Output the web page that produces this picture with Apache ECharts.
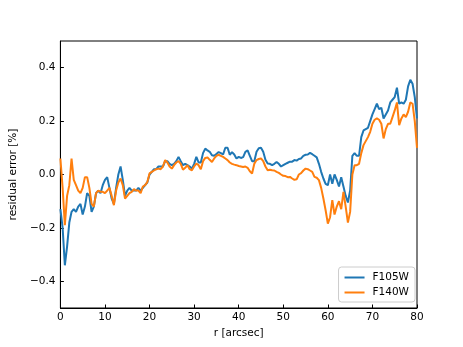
<!DOCTYPE html>
<html>
<head>
<meta charset="utf-8">
<script src="https://cdn.jsdelivr.net/npm/echarts@6/dist/echarts.min.js"></script>
<style>
  html, body { margin: 0; padding: 0; background: #fff; }
  #chart { width: 463px; height: 347px; }
</style>
</head>
<body>
<div id="chart"></div>
<script>
// radius samples [arcsec], every 0.5 arcsec from 0 to 80
const radius = [];
for (let i = 0; i <= 160; i++) radius.push(i * 0.5);

const f105w = [
  -0.13, -0.2, -0.34, -0.27, -0.18, -0.14, -0.13, -0.14, -0.12, -0.11,
  -0.15, -0.12, -0.07, -0.08, -0.14, -0.12, -0.07, -0.06, -0.07, -0.04,
  -0.02, -0.01, -0.05, -0.09, -0.11, -0.05, 0.0, 0.03, -0.02, -0.08,
  -0.06, -0.05, -0.06, -0.06, -0.06, -0.05, -0.06, -0.05, -0.04, -0.03,
  0.0, 0.01, 0.02, 0.02, 0.03, 0.03, 0.03, 0.05, 0.05, 0.04,
  0.035, 0.04, 0.05, 0.066, 0.05, 0.035, 0.04, 0.035, 0.03, 0.022,
  0.04, 0.066, 0.045, 0.045, 0.08, 0.097, 0.09, 0.085, 0.072, 0.07,
  0.077, 0.084, 0.08, 0.075, 0.1, 0.1, 0.074, 0.084, 0.075, 0.06,
  0.066, 0.062, 0.065, 0.085, 0.09, 0.07, 0.05, 0.05, 0.085, 0.098,
  0.1, 0.085, 0.055, 0.041, 0.04, 0.035, 0.04, 0.047, 0.04, 0.03,
  0.035, 0.04, 0.044, 0.048, 0.048, 0.054, 0.052, 0.058, 0.06, 0.07,
  0.074, 0.075, 0.081, 0.076, 0.07, 0.064, 0.04, 0.01, -0.015, -0.035,
  -0.04, 0.0, -0.035, 0.0, -0.02, -0.045, -0.01, -0.045, -0.08, -0.105,
  -0.06, 0.07, 0.08, 0.07, 0.07, 0.14, 0.165, 0.17, 0.175, 0.2,
  0.225, 0.245, 0.265, 0.245, 0.25, 0.21, 0.225, 0.24, 0.27, 0.28,
  0.29, 0.325, 0.265, 0.27, 0.265, 0.28, 0.33, 0.355, 0.34, 0.29,
  0.21
];

const f140w = [
  0.06, -0.05, -0.19, -0.08, -0.04, 0.06, -0.02, -0.04, -0.06, -0.07,
  -0.05, -0.01, -0.01, -0.05, -0.11, -0.12, -0.07, -0.06, -0.065, -0.065,
  -0.07, -0.06, -0.05, -0.08, -0.115, -0.06, -0.03, -0.015, -0.04, -0.09,
  -0.08, -0.07, -0.065, -0.055, -0.06, -0.06, -0.07, -0.045, -0.04, -0.028,
  0.004, 0.01, 0.015, 0.02, 0.022, 0.02, 0.03, 0.054, 0.045, 0.03,
  0.022, 0.035, 0.045, 0.05, 0.04, 0.018, 0.025, 0.035, 0.02, 0.016,
  0.03, 0.041, 0.035, 0.02, 0.05, 0.062, 0.064, 0.055, 0.047, 0.06,
  0.07, 0.074, 0.07, 0.066, 0.06, 0.054, 0.045, 0.04, 0.037, 0.035,
  0.032, 0.03, 0.028, 0.03, 0.025, 0.012, 0.004, 0.04, 0.054, 0.058,
  0.06, 0.05, 0.03, 0.016, 0.018, 0.016, 0.015, 0.01, 0.006, 0.0,
  -0.005, -0.006, -0.01, -0.009, -0.015, -0.02, -0.018, 0.0, 0.005, 0.015,
  0.022, 0.02, 0.015, 0.01, -0.009, -0.012, -0.021, -0.05, -0.09, -0.134,
  -0.184, -0.16, -0.096, -0.15, -0.12, -0.1, -0.13, -0.065, -0.12, -0.18,
  -0.14, 0.0, 0.035, 0.035, 0.04, 0.08, 0.11, 0.125, 0.14, 0.16,
  0.19, 0.205, 0.21, 0.205, 0.19, 0.135, 0.17, 0.19, 0.19, 0.215,
  0.24, 0.27, 0.185, 0.21, 0.225, 0.215, 0.235, 0.27, 0.265, 0.2,
  0.1
];

const yTicks = [-0.4, -0.2, 0.0, 0.2, 0.4];
const xTicks = [0, 10, 20, 30, 40, 50, 60, 70, 80];

const font = 'DejaVu Sans';
const fmt = v => (v < 0 ? '\u2212' : '') + Math.abs(v).toFixed(1);
const legendIcon = 'path://M0,4 L20,4 L20,6 L0,6 Z';

const chart = echarts.init(document.getElementById('chart'), null, {renderer: 'canvas'});

const option = {
  animation: false,
  backgroundColor: '#fff',
  grid: {
    left: 58, right: 46, top: 41, bottom: 39,
    show: true, borderColor: '#000', borderWidth: 1, backgroundColor: 'transparent'
  },
  legend: {
    orient: 'vertical',
    right: 48, bottom: 45,
    padding: [5, 6, 4, 6],
    itemGap: 4,
    itemWidth: 20, itemHeight: 10,
    backgroundColor: '#fff',
    borderColor: '#cccccc',
    borderWidth: 1,
    borderRadius: 3,
    textStyle: {fontFamily: font, fontSize: 10.5, color: '#000', padding: [0, 0, 0, 3]},
    data: [
      {name: 'F105W', icon: legendIcon},
      {name: 'F140W', icon: legendIcon}
    ]
  },
  xAxis: {
    type: 'value',
    min: 0, max: 80, interval: 10,
    name: 'r [arcsec]',
    nameLocation: 'middle',
    nameGap: 18,
    nameTextStyle: {fontFamily: font, fontSize: 10.5, color: '#000'},
    axisLine: {onZero: false, lineStyle: {color: '#000', width: 1}},
    axisTick: {inside: true, length: 3.5, lineStyle: {color: '#000'}, customValues: xTicks},
    axisLabel: {fontFamily: font, fontSize: 10.5, color: '#000', margin: 4, customValues: xTicks},
    splitLine: {show: false}
  },
  yAxis: {
    type: 'value',
    min: -0.5, max: 0.5,
    name: 'residual error [%]',
    nameLocation: 'middle',
    nameGap: 36,
    nameTextStyle: {fontFamily: font, fontSize: 10.5, color: '#000'},
    axisLine: {onZero: false, lineStyle: {color: '#000', width: 1}},
    axisTick: {inside: true, length: 3.5, lineStyle: {color: '#000'}, customValues: yTicks},
    axisLabel: {fontFamily: font, fontSize: 10.5, color: '#000', margin: 5, customValues: yTicks, formatter: fmt},
    splitLine: {show: false}
  },
  series: [
    {
      name: 'F105W', type: 'line', showSymbol: false, symbol: 'none',
      color: '#1f77b4',
      lineStyle: {width: 2, color: '#1f77b4'},
      data: radius.map((r, i) => [r, f105w[i]])
    },
    {
      name: 'F140W', type: 'line', showSymbol: false, symbol: 'none',
      color: '#ff7f0e',
      lineStyle: {width: 2, color: '#ff7f0e'},
      data: radius.map((r, i) => [r, f140w[i]])
    }
  ]
};

chart.setOption(option);
</script>
</body>
</html>
